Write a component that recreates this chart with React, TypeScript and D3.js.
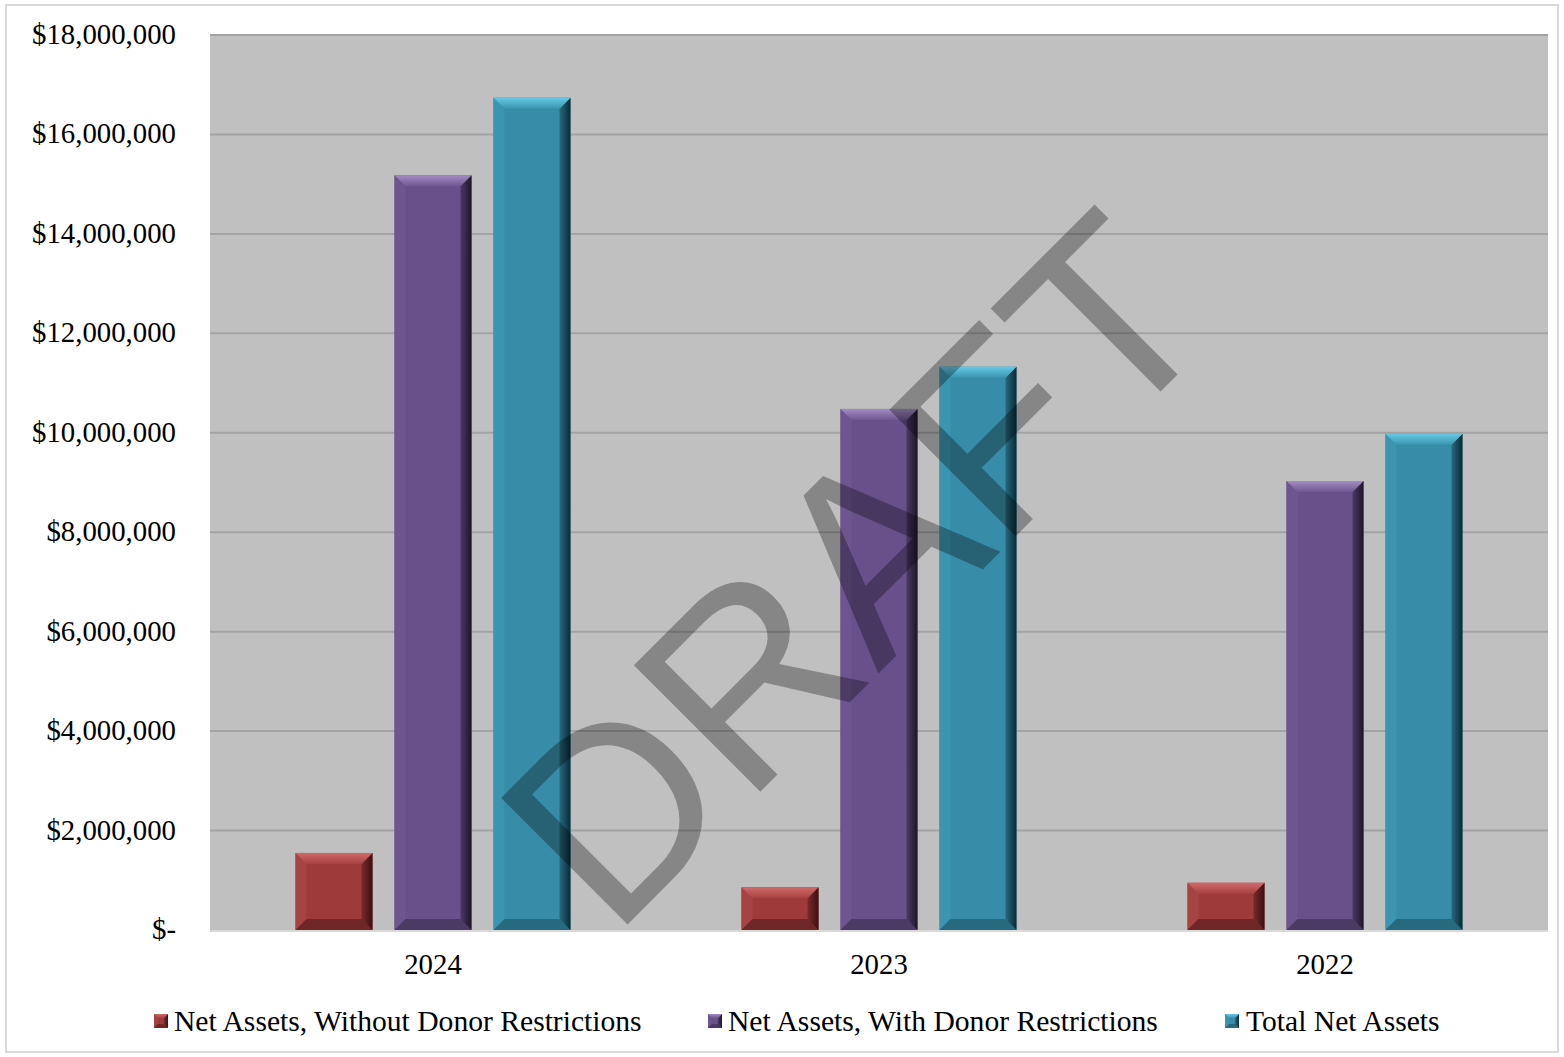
import React from "react";
import * as d3 from "d3";

const years = ["2024", "2023", "2022"];
const seriesNames = [
  "Net Assets, Without Donor Restrictions",
  "Net Assets, With Donor Restrictions",
  "Total Net Assets",
];
const withoutDonor = [1550000, 860000, 950000];
const withDonor = [15180000, 10480000, 9030000];
const totalNet = [16740000, 11330000, 9980000];
const yTicks = [0, 2000000, 4000000, 6000000, 8000000, 10000000, 12000000, 14000000, 16000000, 18000000];

const palettes = [
  { base: "#9f3a3a", top1: "#d06a6a", top2: "#a84242", left: "#a64444", right1: "#7a2a2a", right2: "#3a1010", bottom: "#6e2626" },
  { base: "#68508a", top1: "#a48cc4", top2: "#6f5792", left: "#6d5590", right1: "#4a3965", right2: "#1e1628", bottom: "#4a3a64" },
  { base: "#378ca7", top1: "#66cbe6", top2: "#3b94b0", left: "#3b94b0", right1: "#276a80", right2: "#0a2a34", bottom: "#276a7e" },
];

const W = 1564;
const H = 1057;
const plotL = 210;
const plotR = 1548;
const plotT = 35;
const plotB = 930;
const serif = "'Liberation Serif', 'Times New Roman', serif";

function Bevel({ x, y, w, h, b, pi, id }: { x: number; y: number; w: number; h: number; b: number; pi: number; id: string }) {
  const p = palettes[pi];
  const bb = Math.min(b, h / 2, w / 2);
  const pts = (a: number[][]) => a.map((q) => q.join(",")).join(" ");
  return (
    <g>
      <rect x={x} y={y} width={w} height={h} fill={p.base} />
      <polygon points={pts([[x, y], [x + bb, y + bb], [x + bb, y + h - bb], [x, y + h]])} fill={p.left} />
      <polygon points={pts([[x, y + h], [x + bb, y + h - bb], [x + w - bb, y + h - bb], [x + w, y + h]])} fill={p.bottom} />
      <polygon points={pts([[x + w, y], [x + w, y + h], [x + w - bb, y + h - bb], [x + w - bb, y + bb]])} fill={`url(#r${id})`} />
      <polygon points={pts([[x, y], [x + w, y], [x + w - bb, y + bb], [x + bb, y + bb]])} fill={`url(#t${id})`} />
    </g>
  );
}

export default function App() {
  const series = [withoutDonor, withDonor, totalNet];
  const x0 = d3.scaleBand<string>().domain(years).range([plotL, plotR]).paddingInner(0).paddingOuter(0);
  const x1 = d3
    .scaleBand<string>()
    .domain(seriesNames)
    .range([0, x0.bandwidth()])
    .paddingInner(0.222)
    .paddingOuter(0.864);
  const y = d3.scaleLinear().domain([0, 18000000]).range([plotB, plotT]);
  const fmt = d3.format("$,");

  const legendItems = [
    { mx: 154, tx: 174 },
    { mx: 708, tx: 728 },
    { mx: 1225, tx: 1246 },
  ];

  return (
    <svg width={W} height={H} style={{ position: "absolute", left: 0, top: 0, background: "#fff" }}>
      <defs>
        {palettes.map((p, i) => (
          <React.Fragment key={i}>
            <linearGradient id={`t${i}`} x1="0" y1="0" x2="0" y2="1">
              <stop offset="0" stopColor={p.top1} />
              <stop offset="1" stopColor={p.top2} />
            </linearGradient>
            <linearGradient id={`r${i}`} x1="0" y1="0" x2="1" y2="0">
              <stop offset="0" stopColor={p.right1} />
              <stop offset="1" stopColor={p.right2} />
            </linearGradient>
          </React.Fragment>
        ))}
      </defs>
      <rect x={0} y={0} width={W} height={H} fill="#fff" />
      <rect x={6} y={5} width={1552} height={1047} fill="#fff" stroke="#d9d9d9" strokeWidth={2} />
      <rect x={plotL} y={plotT} width={plotR - plotL} height={plotB - plotT} fill="#c0c0c0" />
      {yTicks.map((t) => (
        <g key={t}>
          {t > 0 && <line x1={plotL} x2={plotR} y1={y(t)} y2={y(t)} stroke="#a3a3a3" strokeWidth={2} />}
          <text x={176} y={y(t) + 9} textAnchor="end" fontFamily={serif} fontSize={28.8} fill="#000">
            {t === 0 ? "$-" : fmt(t)}
          </text>
        </g>
      ))}
      <line x1={plotL} x2={plotR} y1={plotB + 1} y2={plotB + 1} stroke="#d9d9d9" strokeWidth={2} />
      {years.map((yr, yi) => (
        <g key={yr}>
          {series.map((vals, si) => {
            const bx = (x0(yr) as number) + (x1(seriesNames[si]) as number);
            const top = y(vals[yi]);
            return <Bevel key={si} x={bx} y={top} w={x1.bandwidth()} h={plotB - top} b={11} pi={si} id={String(si)} />;
          })}
          <text x={(x0(yr) as number) + x0.bandwidth() / 2} y={974} textAnchor="middle" fontFamily={serif} fontSize={28.8} fill="#000">
            {yr}
          </text>
        </g>
      ))}
      {seriesNames.map((s, i) => (
        <g key={s}>
          <Bevel x={legendItems[i].mx} y={1014} w={14} h={14} b={4} pi={i} id={String(i)} />
          <text x={legendItems[i].tx} y={1031} fontFamily={serif} fontSize={29.6} fill="#000">
            {s}
          </text>
        </g>
      ))}
      <text
        transform="translate(612.5,939.5) rotate(-45)"
        fontFamily="'Liberation Sans', Arial, sans-serif"
        fontSize={260}
        fill="#000"
        fillOpacity={0.3}
      >
        DRAFT
      </text>
    </svg>
  );
}
